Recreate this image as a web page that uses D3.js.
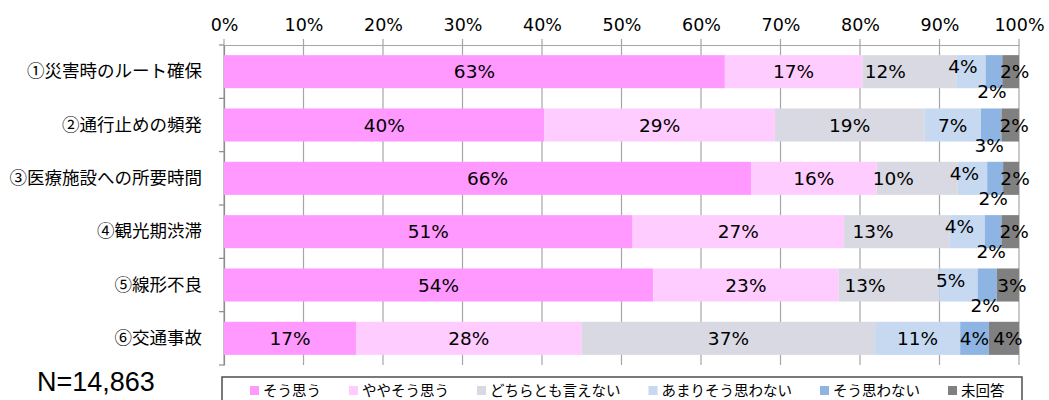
<!DOCTYPE html>
<html>
<head>
<meta charset="utf-8">
<script src="https://cdn.jsdelivr.net/npm/d3@7"></script>
<style>
  body { margin: 0; background: #fff; }
  svg text { fill: #000; }
  .pct { font-family: "DejaVu Sans", sans-serif; font-size: 17.5px; }
  .lbl { font-family: "DejaVu Sans", sans-serif; font-size: 18.5px; }
  .cat { font-family: "Noto Sans CJK JP", sans-serif; font-size: 17.5px; }
  .legend text { font-family: "Noto Sans CJK JP", sans-serif; font-size: 14.5px; }
</style>
</head>
<body>
<svg id="chart"></svg>
<script>
// categories (top to bottom)
const categories = ['①災害時のルート確保', '②通行止めの頻発', '③医療施設への所要時間',
  '④観光期渋滞', '⑤線形不良', '⑥交通事故'];

// answer series
const seriesNames = ['そう思う', 'ややそう思う', 'どちらとも言えない', 'あまりそう思わない', 'そう思わない', '未回答'];
const seriesColors = ['#ff99ff', '#ffccff', '#d9d9e3', '#c6d9f1', '#8db4e2', '#808080'];

// shares in % per series, same order as categories
const soOmou      = [63.0, 40.3, 66.3, 51.4, 54.0, 16.6];
const yayaSoOmou  = [17.3, 29.0, 15.8, 26.6, 23.3, 28.4];
const dochiraMo   = [11.8, 18.8, 10.2, 13.3, 12.7, 36.9];
const amariOmowan = [3.7, 7.1, 3.7, 4.4, 4.8, 10.7];
const soOmowanai  = [2.1, 2.6, 2.0, 2.1, 2.4, 3.6];
const mikaito     = [2.1, 2.2, 2.0, 2.2, 2.8, 3.8];

const xTicks = [0, 10, 20, 30, 40, 50, 60, 70, 80, 90, 100];
const sampleLabel = 'N=14,863';

const seriesValues = [soOmou, yayaSoOmou, dochiraMo, amariOmowan, soOmowanai, mikaito];

const W = 1049, H = 400;
const margin = {top: 45, right: 30, bottom: 35, left: 224};

const svg = d3.select('#chart').attr('width', W).attr('height', H);

const x = d3.scaleLinear().domain([0, 100]).range([margin.left, W - margin.right]);
const y = d3.scaleBand().domain(categories)
    .range([margin.top, H - margin.bottom])
    .paddingInner(0.38).paddingOuter(0.19);

// stacked rows built from the series arrays
const rows = categories.map((c, i) => {
  let acc = 0;
  return seriesValues.map((s, k) => {
    const seg = {cat: c, k: k, v: s[i], x0: acc, x1: acc + s[i], row: i};
    acc += s[i];
    return seg;
  });
});

// gridlines
svg.append('g')
  .selectAll('line')
  .data(xTicks)
  .join('line')
    .attr('x1', d => x(d)).attr('x2', d => x(d))
    .attr('y1', margin.top - 6).attr('y2', H - margin.bottom)
    .attr('stroke', '#a6a6a6').attr('stroke-width', 1.2);

// top axis (labels + line)
const xAxis = d3.axisTop(x).tickValues(xTicks).tickFormat(d => d + '%').tickSize(0).tickPadding(14);
const xAxisG = svg.append('g').attr('transform', `translate(0,${margin.top})`).call(xAxis);
xAxisG.select('.domain').attr('stroke', '#a6a6a6').attr('stroke-width', 1.2);
xAxisG.selectAll('text').attr('class', 'pct').attr('font-size', null).attr('font-family', null);

// left axis with category labels
const yAxis = d3.axisLeft(y).tickSize(0).tickPadding(22);
const yAxisG = svg.append('g').attr('transform', `translate(${margin.left},0)`).call(yAxis);
yAxisG.select('.domain').attr('stroke', '#8c8c8c').attr('stroke-width', 1.2);
yAxisG.selectAll('text').attr('class', 'cat').attr('font-size', null).attr('font-family', null);

// boundary ticks on the left axis
const bounds = d3.range(categories.length + 1).map(i => margin.top + i * y.step());
svg.append('g')
  .selectAll('line')
  .data(bounds)
  .join('line')
    .attr('x1', margin.left - 5).attr('x2', margin.left)
    .attr('y1', d => d).attr('y2', d => d)
    .attr('stroke', '#8c8c8c').attr('stroke-width', 1.2);

// bars
const segs = rows.flat();
svg.append('g')
  .selectAll('rect')
  .data(segs)
  .join('rect')
    .attr('x', d => x(d.x0))
    .attr('y', d => y(d.cat))
    .attr('width', d => x(d.x1) - x(d.x0))
    .attr('height', y.bandwidth())
    .attr('fill', d => seriesColors[d.k]);

// data labels: small segments get nudged like in the original
function labelPos(d) {
  const r = rows[d.row];
  let cx = (x(d.x0) + x(d.x1)) / 2;
  let cy = y(d.cat) + y.bandwidth() / 2;
  if (d.k === 2 && r[3].v < 6) cx -= 24;
  if (d.k === 3 && d.v < 6) { cx -= 8; cy -= 5; }
  if (d.k === 4 && d.v < 3.5) { cx -= 2; cy += 20; }
  if (d.k === 5) cx += 4;
  return [cx, cy];
}

svg.append('g')
  .selectAll('text')
  .data(segs)
  .join('text')
    .attr('class', 'lbl')
    .attr('x', d => labelPos(d)[0])
    .attr('y', d => labelPos(d)[1])
    .attr('dy', '0.36em')
    .attr('text-anchor', 'middle')
    .text(d => Math.round(d.v) + '%');

// sample size note
svg.append('text')
  .attr('x', 37).attr('y', 391)
  .style('font-family', '"Liberation Sans", Arial, sans-serif')
  .style('font-size', '27px')
  .text(sampleLabel);

// legend
const legend = svg.append('g').attr('class', 'legend');
legend.append('rect')
  .attr('x', 222).attr('y', 377).attr('width', 800).attr('height', 40)
  .attr('fill', '#fff').attr('stroke', '#4d4d4d').attr('stroke-width', 1.5);

const items = legend.selectAll('g.item')
  .data(seriesNames)
  .join('g').attr('class', 'item');
items.append('rect')
  .attr('width', 9).attr('height', 9).attr('y', 386)
  .attr('fill', (d, i) => seriesColors[i]);
items.append('text')
  .attr('x', 13).attr('y', 391).attr('dy', '0.36em')
  .text(d => d);

// spread items between the first marker and the right end
const widths = [];
items.each(function() { widths.push(this.getBBox().width); });
const startX = 250, endX = 1005;
const gap = (endX - startX - d3.sum(widths)) / (widths.length - 1);
let cur = startX;
items.each(function(d, i) {
  d3.select(this).attr('transform', `translate(${cur},0)`);
  cur += widths[i] + gap;
});
</script>
</body>
</html>
